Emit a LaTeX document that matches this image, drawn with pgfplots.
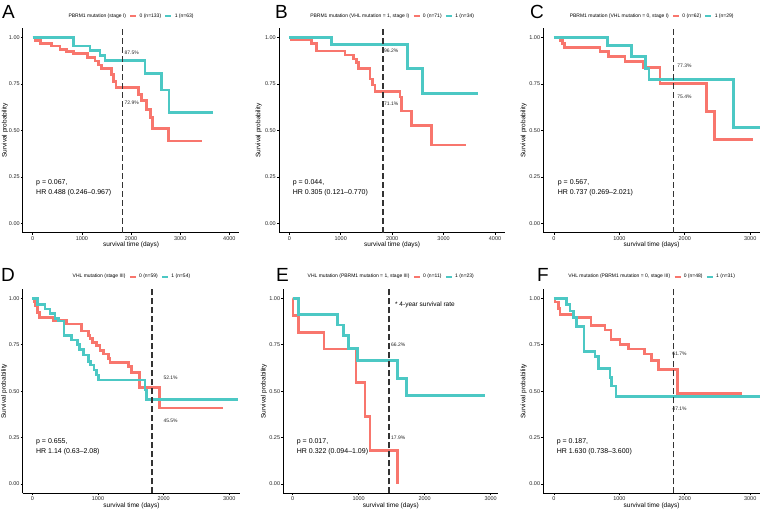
\documentclass[border=0pt]{standalone}
\usepackage{fontspec}
\setmainfont{Liberation Sans}
\usepackage{pgfplots}
\pgfplotsset{compat=1.18}
\definecolor{kmred}{HTML}{F8766D}
\definecolor{kmcyan}{HTML}{4CC8C4}

\tikzset{
  pct/.style={font=\fontsize{5}{6}\selectfont, anchor=west, inner sep=0pt, black!85},
  stat/.style={font=\fontsize{7}{10}\selectfont, anchor=west, inner sep=0pt, align=left},
}
\pgfplotsset{
  km/.style={
    scale only axis, height=204.2pt,
    ymin=-0.05, ymax=1.05,
    axis lines*=left, axis line style={line width=1pt},
    ytick={0,0.25,0.5,0.75,1},
    y tick label style={/pgf/number format/fixed, /pgf/number format/fixed zerofill, /pgf/number format/precision=2},
    /pgf/number format/assume math mode=true,
    /pgf/number format/1000 sep={},
    scaled x ticks=false,
    tick align=outside, major tick length=2pt,
    tick style={black, line width=0.6pt},
    tick label style={font=\fontsize{5.5}{6}\selectfont, black!85},
    yticklabel style={inner sep=1pt},
    xticklabel style={inner sep=1.5pt},
    xlabel={survival time (days)},
    ylabel={Survival probability},
    xlabel style={font=\fontsize{6.5}{7}\selectfont, at={(axis description cs:0.5,-0.062)}, anchor=center},
    ylabel style={font=\fontsize{6.5}{7}\selectfont, at={(axis description cs:-0.09,0.5)}, anchor=center},
    legend columns=-1,
    legend style={draw=none, fill=none, at={(0.5,1)}, anchor=south, yshift=7.5pt,
      font=\fontsize{5}{6}\selectfont, inner sep=0pt,
      /tikz/every even column/.append style={column sep=1pt}},
    legend image code/.code={\draw[#1, line width=2.6pt] (0pt,0pt) -- (6pt,0pt);},
  },
  r/.style={kmred, line width=2.8pt, const plot, no marks},
  c/.style={kmcyan, line width=2.8pt, const plot, no marks},
  vline/.style={black!80, line width=1.6pt, dash pattern=on 6pt off 3pt, forget plot},
}

\begin{document}
\begin{tikzpicture}
\useasboundingbox (0pt,0pt) rectangle (760pt,509pt);

% ---------------- A
\begin{axis}[km, at={(22.9pt,276.4pt)}, anchor=south west, width=216.3pt,
  xmin=-200, xmax=4200, xtick={0,1000,2000,3000,4000},
  ylabel style={at={(axis description cs:-0.083,0.5)}}]
\addlegendimage{empty legend}\addlegendentry{PBRM1 mutation (stage I)}
\addplot[r] coordinates {(0,1) (60,0.985) (150,0.97) (386,0.955) (556,0.937) (692,0.925) (827,0.916)
  (1112,0.894) (1268,0.874) (1336,0.853) (1403,0.835) (1607,0.80) (1641,0.765) (1695,0.731)
  (2149,0.695) (2217,0.66) (2319,0.615) (2400,0.572) (2441,0.512) (2759,0.443) (3437,0.443)};
\addlegendentry{0 (n=133)}
\addplot[c] coordinates {(0,1) (827,0.955) (1166,0.933) (1369,0.905) (1471,0.875) (2285,0.808)
  (2624,0.718) (2773,0.596) (3675,0.596)};
\addlegendentry{1 (n=63)}
\addplot[vline] coordinates {(1825,-0.05) (1825,1.05)};
\node[pct] at (axis cs:1864,0.919) {87.5\%};
\node[pct] at (axis cs:1864,0.647) {72.9\%};
\node[stat] at (axis cs:67,0.194) {p = 0.067,\\HR 0.488 (0.246--0.967)};
\end{axis}

% ---------------- B
\begin{axis}[km, at={(279pt,276.4pt)}, anchor=south west, width=226.3pt,
  xmin=-200, xmax=4200, xtick={0,1000,2000,3000,4000}]
\addlegendimage{empty legend}\addlegendentry{PBRM1 mutation (VHL mutation = 1, stage I)}
\addplot[r] coordinates {(0,1) (45,0.987) (434,0.97) (532,0.928) (1083,0.907) (1245,0.885)
  (1310,0.867) (1342,0.835) (1569,0.777) (1621,0.745) (1666,0.711) (2152,0.68) (2185,0.605)
  (2379,0.528) (2768,0.422) (3436,0.422)};
\addlegendentry{0 (n=71)}
\addplot[c] coordinates {(0,1) (823,0.962) (2295,0.835) (2593,0.70) (3676,0.70)};
\addlegendentry{1 (n=34)}
\addplot[vline] coordinates {(1825,-0.05) (1825,1.05)};
\node[pct] at (axis cs:1841,0.928) {96.2\%};
\node[pct] at (axis cs:1841,0.643) {71.1\%};
\node[stat] at (axis cs:66,0.194) {p = 0.044,\\HR 0.305 (0.121--0.770)};
\end{axis}

% ---------------- C
\begin{axis}[km, at={(543.3pt,276.4pt)}, anchor=south west, width=216.7pt,
  xmin=-163, xmax=3150, xtick={0,1000,2000,3000}]
\addlegendimage{empty legend}\addlegendentry{PBRM1 mutation (VHL mutation = 0, stage I)}
\addplot[r] coordinates {(0,1) (92,0.984) (127,0.968) (158,0.948) (703,0.924) (830,0.90)
  (1085,0.872) (1365,0.838) (1620,0.754) (2333,0.603) (2450,0.452) (3046,0.452)};
\addlegendentry{0 (n=62)}
\addplot[c] coordinates {(0,1) (815,0.957) (1187,0.898) (1400,0.835) (1452,0.773) (2740,0.515)
  (3300,0.515)};
\addlegendentry{1 (n=29)}
\addplot[vline] coordinates {(1825,-0.05) (1825,1.05)};
\node[pct] at (axis cs:1885,0.849) {77.3\%};
\node[pct] at (axis cs:1885,0.679) {75.4\%};
\node[stat] at (axis cs:57,0.194) {p = 0.567,\\HR 0.737 (0.269--2.021)};
\end{axis}

% ---------------- D
\begin{axis}[km, at={(22.7pt,15.7pt)}, anchor=south west, width=217.5pt,
  xmin=-146, xmax=3166, xtick={0,1000,2000,3000},
  ylabel style={at={(axis description cs:-0.085,0.5)}}]
\addlegendimage{empty legend}\addlegendentry{VHL mutation (stage III)}
\addplot[r] coordinates {(0,1) (30,0.98) (51,0.96) (81,0.925) (107,0.897) (320,0.88) (523,0.862)
  (751,0.824) (853,0.80) (878,0.784) (919,0.763) (980,0.745) (1030,0.72) (1081,0.70)
  (1157,0.677) (1183,0.655) (1462,0.632) (1513,0.60) (1629,0.521) (1934,0.41) (2898,0.41)};
\addlegendentry{0 (n=59)}
\addplot[c] coordinates {(0,1) (81,0.968) (193,0.943) (269,0.919) (345,0.892) (396,0.878)
  (482,0.80) (599,0.776) (685,0.75) (716,0.725) (777,0.695) (853,0.662) (888,0.641)
  (939,0.614) (980,0.587) (1005,0.56) (1716,0.506) (1741,0.455) (3137,0.455)};
\addlegendentry{1 (n=54)}
\addplot[vline] coordinates {(1825,-0.05) (1825,1.05)};
\node[pct] at (axis cs:1995,0.572) {52.1\%};
\node[pct] at (axis cs:1995,0.341) {45.5\%};
\node[stat] at (axis cs:56,0.201) {p = 0.655,\\HR 1.14 (0.63--2.08)};
\end{axis}

% ---------------- E
\begin{axis}[km, at={(283.3pt,15.7pt)}, anchor=south west, width=215pt,
  xmin=-142, xmax=3116, xtick={0,1000,2000,3000}]
\addlegendimage{empty legend}\addlegendentry{VHL mutation (PBRM1 mutation = 1, stage III)}
\addplot[r] coordinates {(0,1) (5,0.909) (86,0.818) (475,0.727) (960,0.545) (1096,0.364)
  (1172,0.182) (1586,0)};
\addlegendentry{0 (n=11)}
\addplot[c] coordinates {(0,1) (86,0.913) (677,0.857) (768,0.80) (843,0.731) (980,0.664)
  (1591,0.569) (1727,0.476) (2914,0.476)};
\addlegendentry{1 (n=23)}
\addplot[vline] coordinates {(1460,-0.05) (1460,1.05)};
\node[pct] at (axis cs:1489,0.752) {66.2\%};
\node[pct] at (axis cs:1489,0.249) {17.9\%};
\node[font=\fontsize{6.5}{7}\selectfont, anchor=west, inner sep=0pt] at (axis cs:1550,0.968) {* 4-year survival rate};
\node[stat] at (axis cs:61,0.201) {p = 0.017,\\HR 0.322 (0.094--1.09)};
\end{axis}

% ---------------- F
\begin{axis}[km, at={(543.3pt,15.7pt)}, anchor=south west, width=216.7pt,
  xmin=-163, xmax=3150, xtick={0,1000,2000,3000}]
\addlegendimage{empty legend}\addlegendentry{VHL mutation (PBRM1 mutation = 0, stage III)}
\addplot[r] coordinates {(0,1) (15,0.98) (66,0.946) (92,0.914) (295,0.896) (565,0.853) (779,0.83)
  (871,0.779) (1008,0.752) (1136,0.727) (1390,0.70) (1492,0.666) (1594,0.619) (1890,0.488)
  (2878,0.488)};
\addlegendentry{0 (n=48)}
\addplot[c] coordinates {(0,1) (194,0.968) (244,0.932) (295,0.896) (346,0.847) (458,0.713)
  (626,0.686) (677,0.623) (856,0.574) (881,0.528) (947,0.47) (3300,0.47)};
\addlegendentry{1 (n=31)}
\addplot[vline] coordinates {(1825,-0.05) (1825,1.05)};
\node[pct] at (axis cs:1809,0.702) {61.7\%};
\node[pct] at (axis cs:1809,0.404) {47.1\%};
\node[stat] at (axis cs:41,0.201) {p = 0.187,\\HR 1.630 (0.738--3.600)};
\end{axis}

\begin{scope}[every node/.style={anchor=north west, inner sep=0pt, font=\fontsize{19}{19}\selectfont}]
\node at (2pt,504pt) {A};
\node at (275pt,504pt) {B};
\node at (530pt,504pt) {C};
\node at (1pt,240.5pt) {D};
\node at (276pt,240.5pt) {E};
\node at (537pt,240.5pt) {F};
\end{scope}
\end{tikzpicture}
\end{document}
